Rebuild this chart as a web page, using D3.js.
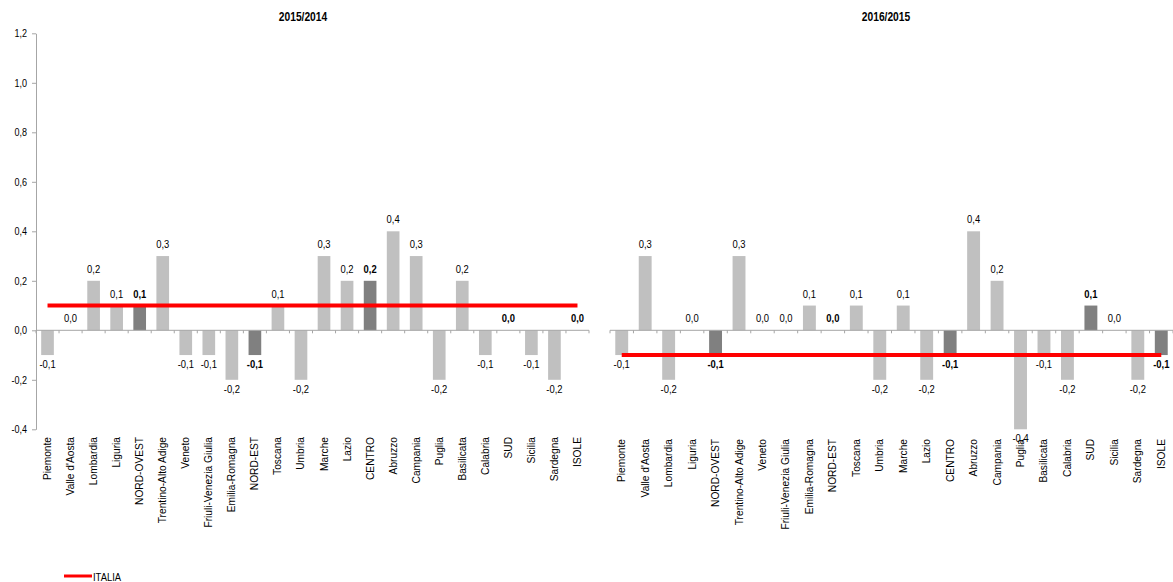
<!DOCTYPE html>
<html>
<head>
<meta charset="utf-8">
<script src="https://cdn.jsdelivr.net/npm/d3@7"></script>
<style>
  html, body { margin: 0; padding: 0; background: #ffffff; }
  svg { display: block; }
  .narrow { font-family: "Liberation Sans Narrow", "Arial Narrow", "Liberation Sans", Arial, sans-serif; }
  .cat { font-family: "Liberation Sans", Arial, sans-serif; }
</style>
</head>
<body>
<svg id="chart" width="1173" height="582"></svg>
<script>
// Regions and macro-areas (aggregates drawn in dark grey)
const categories = [
  "Piemonte", "Valle d'Aosta", "Lombardia", "Liguria", "NORD-OVEST",
  "Trentino-Alto Adige", "Veneto", "Friuli-Venezia Giulia", "Emilia-Romagna", "NORD-EST",
  "Toscana", "Umbria", "Marche", "Lazio", "CENTRO",
  "Abruzzo", "Campania", "Puglia", "Basilicata", "Calabria", "SUD",
  "Sicilia", "Sardegna", "ISOLE"
];
const aggregates = ["NORD-OVEST", "NORD-EST", "CENTRO", "SUD", "ISOLE"];

// Yearly variation, 2015 on 2014
const values2015 = [
  -0.1, 0.0, 0.2, 0.1, 0.1,
  0.3, -0.1, -0.1, -0.2, -0.1,
  0.1, -0.2, 0.3, 0.2, 0.2,
  0.4, 0.3, -0.2, 0.2, -0.1, 0.0,
  -0.1, -0.2, 0.0
];
// Yearly variation, 2016 on 2015
const values2016 = [
  -0.1, 0.3, -0.2, 0.0, -0.1,
  0.3, 0.0, 0.0, 0.1, 0.0,
  0.1, -0.2, 0.1, -0.2, -0.1,
  0.4, 0.2, -0.4, -0.1, -0.2, 0.1,
  0.0, -0.2, -0.1
];
// National reference value (ITALIA)
const italia2015 = 0.1;
const italia2016 = -0.1;

const titles = ["2015/2014", "2016/2015"];
const yTicks = [-0.4, -0.2, 0.0, 0.2, 0.4, 0.6, 0.8, 1.0, 1.2];
const legendLabel = "ITALIA";

const svg = d3.select("#chart");
const fmt = v => d3.format(".1f")(v).replace(".", ",").replace("−", "-");
const squeeze = 0.82; // horizontal compression for the condensed lettering

const y = d3.scaleLinear().domain([-0.4, 1.2]).range([429.3, 33.3]);

// condensed text helper
function narrowText(sel, x, yPos) {
  return sel.attr("class", "narrow")
    .attr("transform", `translate(${x},${yPos}) scale(${squeeze},1)`);
}

const panels = [
  { title: titles[0], values: values2015, italia: italia2015, x0: 36, x1: 589, showY: true, titleX: 303, catTop: 437 },
  { title: titles[1], values: values2016, italia: italia2016, x0: 610, x1: 1173, showY: false, titleX: 886, catTop: 439 }
];

const light = "#c0c0c0", dark = "#808080", axisCol = "#a6a6a6", red = "#ff0000";

panels.forEach(p => {
  const g = svg.append("g");
  const x = d3.scaleBand().domain(categories).range([p.x0, p.x1]).paddingInner(0.45).paddingOuter(0.225);
  const xb = d3.scaleBand().domain(categories).range([p.x0, p.x1]);

  // Title
  narrowText(g.append("text"), p.titleX, 21)
    .attr("text-anchor", "middle")
    .attr("font-size", 12.5).attr("font-weight", "bold")
    .attr("fill", "#000")
    .text(p.title);

  // Y axis
  if (p.showY) {
    const ya = d3.axisLeft(y).tickValues(yTicks).tickSize(4).tickSizeOuter(0).tickFormat(fmt);
    const ay = g.append("g").attr("transform", `translate(${p.x0},0)`).call(ya);
    ay.select(".domain").attr("stroke", axisCol);
    ay.selectAll(".tick line").attr("stroke", axisCol);
    ay.selectAll(".tick text")
      .attr("class", "narrow").attr("font-size", 11).attr("fill", "#000")
      .attr("x", 0)
      .attr("transform", `translate(-9,0) scale(${squeeze},1)`);
  }

  // Bars
  const data = categories.map((c, i) => ({ c, v: p.values[i], agg: aggregates.includes(c) }));
  g.selectAll("rect.bar").data(data).enter().append("rect")
    .attr("class", "bar")
    .attr("x", d => x(d.c))
    .attr("width", x.bandwidth())
    .attr("y", d => y(Math.max(0, d.v)))
    .attr("height", d => Math.abs(y(d.v) - y(0)))
    .attr("fill", d => d.agg ? dark : light);

  // X axis line with ticks at category boundaries
  g.append("line").attr("x1", p.x0).attr("x2", p.x1).attr("y1", y(0)).attr("y2", y(0))
    .attr("stroke", axisCol).attr("stroke-width", 1);
  const bounds = categories.map(c => xb(c)).concat([p.x1]);
  g.selectAll("line.xt").data(bounds).enter().append("line")
    .attr("class", "xt")
    .attr("x1", d => d).attr("x2", d => d)
    .attr("y1", y(0)).attr("y2", y(0) + 3)
    .attr("stroke", axisCol);

  // Value labels
  g.selectAll("text.val").data(data).enter().append("text")
    .attr("class", "narrow val")
    .attr("transform", d => {
      const lx = x(d.c) + x.bandwidth() / 2;
      const ly = d.v > 0 ? y(d.v) - 8 : (d.v < 0 ? y(d.v) + 13 : y(0) - 8);
      return `translate(${lx},${ly}) scale(${squeeze},1)`;
    })
    .attr("text-anchor", "middle")
    .attr("font-size", 11.5)
    .attr("font-weight", d => d.agg ? "bold" : "normal")
    .attr("fill", "#000")
    .text(d => fmt(d.v));

  // Category labels, rotated
  g.selectAll("text.cat").data(categories).enter().append("text")
    .attr("class", "cat")
    .attr("transform", c => `translate(${xb(c) + xb.bandwidth() / 2 + 3.5},${p.catTop}) rotate(-90)`)
    .attr("text-anchor", "end")
    .attr("font-size", 10.2)
    .attr("fill", "#000")
    .text(c => c);

  // ITALIA reference line
  g.append("line")
    .attr("x1", xb(categories[0]) + xb.bandwidth() / 2)
    .attr("x2", xb(categories[categories.length - 1]) + xb.bandwidth() / 2)
    .attr("y1", y(p.italia)).attr("y2", y(p.italia))
    .attr("stroke", red).attr("stroke-width", 4);
});

// Legend
const lg = svg.append("g");
lg.append("line").attr("x1", 64).attr("x2", 92).attr("y1", 576).attr("y2", 576)
  .attr("stroke", red).attr("stroke-width", 3);
narrowText(lg.append("text"), 93, 581)
  .attr("font-size", 11.5).attr("fill", "#000").text(legendLabel);
</script>
</body>
</html>
